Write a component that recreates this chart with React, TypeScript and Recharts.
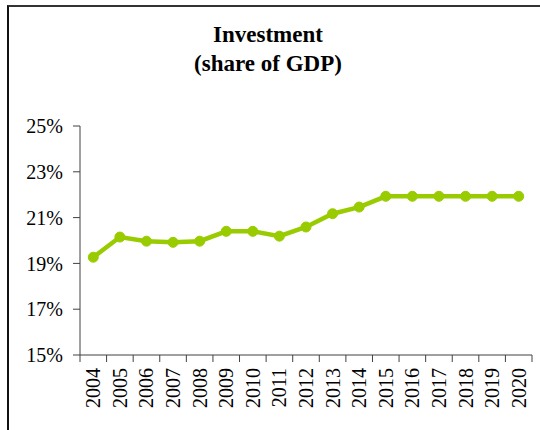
import React from "react";
import { LineChart, Line, XAxis, YAxis } from "recharts";

const years = ["2004","2005","2006","2007","2008","2009","2010","2011","2012","2013","2014","2015","2016","2017","2018","2019","2020"];
const investment = [19.27, 20.15, 19.97, 19.92, 19.97, 20.4, 20.4, 20.19, 20.59, 21.17, 21.46, 21.93, 21.93, 21.93, 21.93, 21.93, 21.93];
const yTicks = [15, 17, 19, 21, 23, 25];
const titleLines = ["Investment", "(share of GDP)"];

const data = years.map((y, i) => ({ year: y, value: investment[i] }));

const W = 540;
const H = 430;
const M = { top: 126, right: 8, bottom: 15, left: 20 };
const Y_W = 60;
const X_H = 60;
const PLOT_W = W - M.left - M.right - Y_W;
const STEP = PLOT_W / years.length;
const FONT = "'Liberation Serif', 'Times New Roman', serif";
const AXIS = "#404040";
const TICK_SIZE = 7;
const TICK_MARGIN = 6;

const XTick = (props: any) => {
  const { x, y, payload, index } = props;
  const axisY = y - TICK_SIZE - TICK_MARGIN;
  const left = x - STEP / 2;
  return (
    <g>
      <line x1={left} x2={left} y1={axisY} y2={axisY + TICK_SIZE} stroke={AXIS} strokeWidth={1} />
      {index === years.length - 1 && (
        <line x1={x + STEP / 2} x2={x + STEP / 2} y1={axisY} y2={axisY + TICK_SIZE} stroke={AXIS} strokeWidth={1} />
      )}
      <text
        x={x}
        y={y}
        transform={`rotate(-90, ${x}, ${y})`}
        textAnchor="end"
        dy="0.35em"
        style={{ fontFamily: FONT, fontSize: 20 }}
        fill="#000"
      >
        {payload.value}
      </text>
    </g>
  );
};

export default function App() {
  return (
    <div style={{ position: "absolute", left: 0, top: 0, width: W, height: H, background: "#fff", overflow: "hidden" }}>
      <div
        style={{
          position: "absolute",
          left: 7,
          top: 5,
          width: W - 7,
          height: H - 5,
          borderTop: "2px solid #333",
          borderLeft: "2px solid #111",
          boxSizing: "border-box",
        }}
      />
      <div
        style={{
          position: "absolute",
          left: 0,
          top: 20,
          width: 536,
          textAlign: "center",
          fontFamily: FONT,
          fontWeight: "bold",
          fontSize: 23,
          lineHeight: "29px",
          color: "#000",
        }}
      >
        {titleLines.map((t) => (
          <div key={t}>{t}</div>
        ))}
      </div>
      <div style={{ position: "absolute", left: 0, top: 0, fontFamily: FONT }}>
        <LineChart width={W} height={H} data={data} margin={M} style={{ fontFamily: FONT }}>
          <XAxis
            dataKey="year"
            height={X_H}
            interval={0}
            padding={{ left: STEP / 2, right: STEP / 2 }}
            axisLine={{ stroke: AXIS, strokeWidth: 1 }}
            tickLine={false}
            tickSize={TICK_SIZE}
            tickMargin={TICK_MARGIN}
            tick={<XTick />}
          />
          <YAxis
            width={Y_W}
            domain={[15, 25]}
            ticks={yTicks}
            interval={0}
            tickFormatter={(v: number) => `${v}%`}
            axisLine={{ stroke: AXIS, strokeWidth: 1 }}
            tickLine={{ stroke: AXIS, strokeWidth: 1 }}
            tickSize={TICK_SIZE}
            tickMargin={10}
            tick={{ fill: "#000", fontFamily: FONT, fontSize: 20, style: { fontFamily: FONT } }}
          />
          <Line
            type="linear"
            dataKey="value"
            stroke="#99cc00"
            strokeWidth={4.5}
            dot={{ r: 5, fill: "#99cc00", stroke: "#99cc00", strokeWidth: 1 }}
            activeDot={false}
            isAnimationActive={false}
          />
        </LineChart>
      </div>
    </div>
  );
}
